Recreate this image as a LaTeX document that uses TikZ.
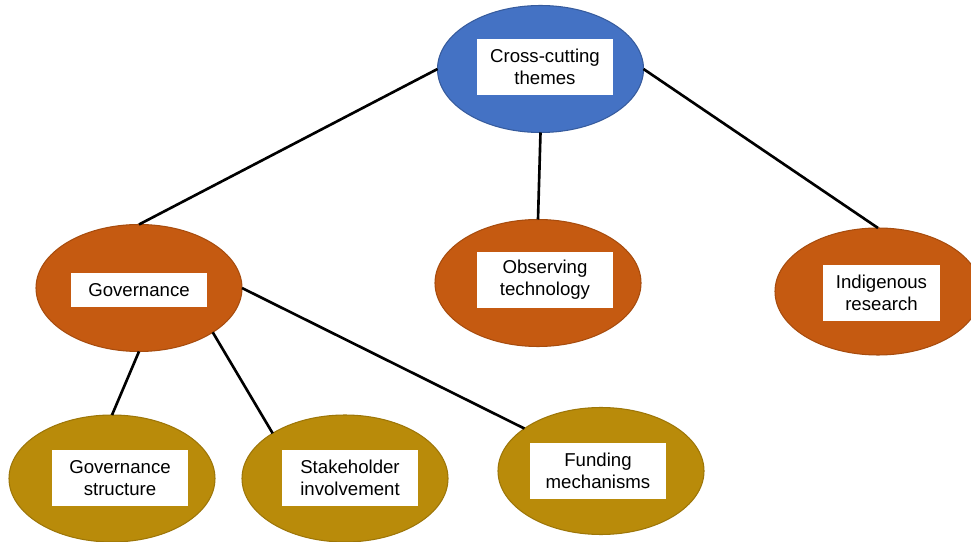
\documentclass[tikz,border=0pt]{standalone}
\usepackage{fontspec}
\setmainfont{Liberation Sans}
\usetikzlibrary{shapes.geometric}
\definecolor{themeblue}{HTML}{4472C4}
\definecolor{rust}{HTML}{C55A11}
\definecolor{ochre}{HTML}{B98B0A}
\begin{document}
\begin{tikzpicture}[
    blob/.style={ellipse, minimum width=4.12cm, minimum height=2.54cm, outer sep=0pt, line width=0.6pt},
    txtbox/.style={fill=white, align=center, inner sep=0pt, minimum width=2.72cm, minimum height=1.12cm, font=\fontsize{10.6}{12.5}\selectfont},
    link/.style={line width=1.5pt, black}]
  \useasboundingbox (0,0) rectangle (19.42,10.82);

  % Ellipses
  \node[blob, fill=themeblue, draw=themeblue!80!black] (t) at (10.81, 9.44) {};
  \node[blob, fill=rust, draw=rust!85!black] (g) at (2.78, 5.06) {};
  \node[blob, fill=rust, draw=rust!85!black] (o) at (10.76, 5.16) {};
  \node[blob, fill=rust, draw=rust!85!black] (i) at (17.56, 4.99) {};
  \node[blob, fill=ochre, draw=ochre!85!black] (gs) at (2.24, 1.25) {};
  \node[blob, fill=ochre, draw=ochre!85!black] (sh) at (6.90, 1.25) {};
  \node[blob, fill=ochre, draw=ochre!85!black] (f) at (12.02, 1.40) {};

  % Text boxes
  \node[txtbox] (t-txt) at (10.90, 9.48) {Cross-cutting\\themes};
  \node[txtbox, minimum height=0.68cm] (g-txt) at (2.78, 5.02) {Governance};
  \node[txtbox] (o-txt) at (10.90, 5.22) {Observing\\technology};
  \node[txtbox, minimum width=2.34cm] (i-txt) at (17.63, 4.96) {Indigenous\\research};
  \node[txtbox] (gs-txt) at (2.40, 1.26) {Governance\\structure};
  \node[txtbox] (sh-txt) at (7.00, 1.26) {Stakeholder\\involvement};
  \node[txtbox] (f-txt) at (11.96, 1.40) {Funding\\mechanisms};

  % Connectors
  \draw[link] (t.west) -- (g.north);
  \draw[link] (t.south) -- (o.north);
  \draw[link] (t.east) -- (i.north);
  \draw[link] (g.south) -- (gs.north);
  \draw[link] (g.-31) -- (sh.148);
  \draw[link] (g.east) -- (f.151);
\end{tikzpicture}
\end{document}
